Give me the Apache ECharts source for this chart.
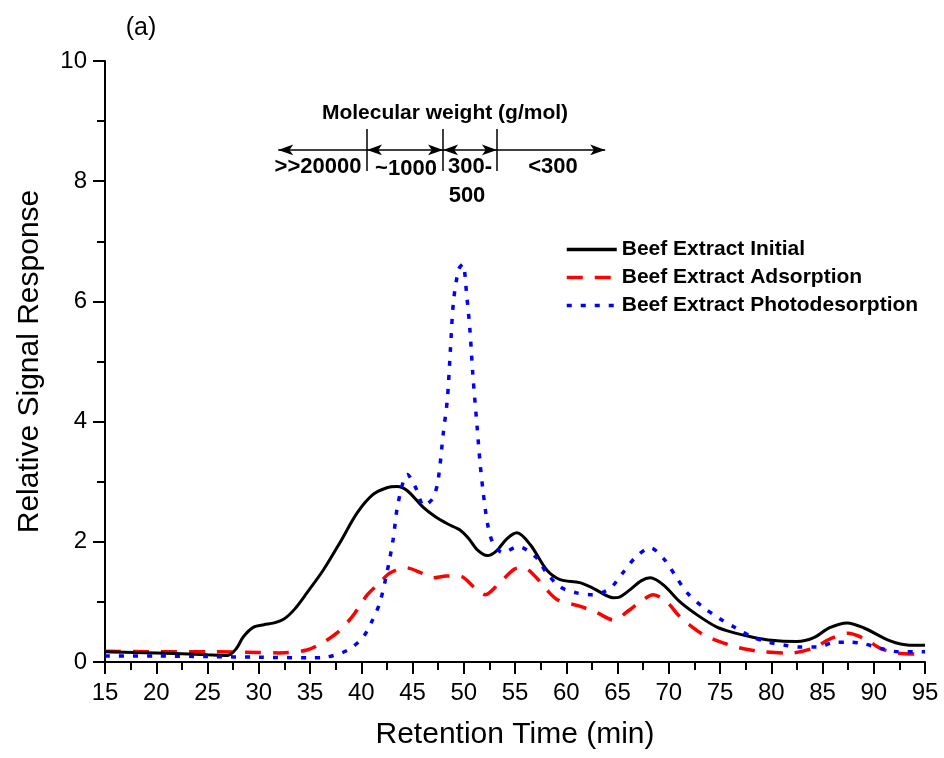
<!DOCTYPE html>
<html>
<head>
<meta charset="utf-8">
<script src="https://cdn.jsdelivr.net/npm/echarts@6/dist/echarts.min.js"></script>
<style>
    html, body { margin: 0; padding: 0; background: #fff; }
    #chart { width: 944px; height: 758px; }
</style>
</head>
<body>
<div id="chart"></div>
<script>
// Retention time (min) / relative signal
const initialTime = [15, 20, 25, 27, 27.8, 28.5, 29.5, 30.5, 31.5, 32.5, 33.5, 34.7, 36.3, 37.9, 39.6, 41.1, 42.5, 43.5, 44.5, 46, 47.2, 48.4, 49.6, 50.5, 51.3, 52.3, 53.2, 54.2, 55.2, 56.5, 58.1, 59.4, 61.3, 62.6, 64.6, 65.2, 66.2, 67.3, 68.2, 69.5, 71.1, 72.8, 74.7, 76.5, 78, 80, 82.5, 84.1, 85.7, 87.4, 89, 91.6, 93.5, 95]
const initialSignal = [0.17, 0.15, 0.12, 0.11, 0.22, 0.42, 0.58, 0.62, 0.65, 0.72, 0.88, 1.15, 1.53, 1.98, 2.48, 2.78, 2.9, 2.92, 2.85, 2.58, 2.42, 2.3, 2.2, 2.05, 1.87, 1.77, 1.85, 2.05, 2.15, 1.95, 1.53, 1.37, 1.32, 1.23, 1.07, 1.08, 1.2, 1.35, 1.4, 1.28, 1.0, 0.78, 0.58, 0.48, 0.42, 0.36, 0.34, 0.4, 0.57, 0.65, 0.57, 0.35, 0.28, 0.28]

const adsorptionTime = [15, 20, 25, 30, 32, 34.7, 36.3, 37.6, 39.1, 40.6, 41.8, 42.8, 44.3, 45.9, 47, 48.3, 49.6, 51.1, 52.1, 53.5, 55, 55.8, 57, 58.1, 59.2, 61.3, 63, 64.6, 66.2, 67.2, 68.5, 69.8, 71.1, 72.3, 73.4, 74.5, 76, 77.3, 79.2, 81.8, 84.1, 85.7, 87.5, 89.3, 90.6, 92.2, 95]
const adsorptionSignal = [0.18, 0.17, 0.17, 0.16, 0.15, 0.2, 0.33, 0.48, 0.75, 1.12, 1.32, 1.48, 1.57, 1.48, 1.4, 1.43, 1.43, 1.23, 1.12, 1.32, 1.55, 1.57, 1.42, 1.2, 1.03, 0.93, 0.82, 0.7, 0.87, 1.0, 1.12, 1.0, 0.75, 0.58, 0.45, 0.37, 0.28, 0.22, 0.17, 0.15, 0.23, 0.38, 0.48, 0.37, 0.23, 0.15, 0.13]

const photoTime = [15, 20, 25, 30, 35, 36.5, 38.7, 40.2, 41.1, 41.8, 42.5, 43.1, 43.6, 44.5, 45.4, 46.1, 47, 47.5, 48, 48.4, 48.7, 49, 49.5, 49.9, 50.3, 50.6, 50.9, 51.3, 51.6, 51.9, 52.3, 52.8, 53.8, 55.3, 57, 58.1, 59.4, 61, 62.6, 64.3, 65.5, 66.7, 68.2, 69.6, 70.7, 71.8, 73.3, 74.9, 76.5, 78.1, 79.7, 81.3, 82.8, 84.5, 86, 87.6, 89.1, 90.8, 92.4, 95]
const photoSignal = [0.1, 0.1, 0.09, 0.08, 0.07, 0.08, 0.2, 0.42, 0.7, 0.98, 1.48, 2.03, 2.65, 3.12, 2.87, 2.6, 2.73, 3.03, 3.8, 4.37, 5.2, 6.0, 6.53, 6.62, 6.08, 5.53, 4.75, 3.92, 3.3, 2.82, 2.32, 2.0, 1.82, 1.92, 1.75, 1.48, 1.25, 1.15, 1.12, 1.23, 1.48, 1.73, 1.9, 1.7, 1.42, 1.15, 0.92, 0.73, 0.57, 0.42, 0.33, 0.28, 0.25, 0.25, 0.32, 0.33, 0.3, 0.22, 0.17, 0.17]

const seriesNames = ['Beef Extract Initial', 'Beef Extract Adsorption', 'Beef Extract Photodesorption']

// molecular weight bracket (retention time of the dividers)
const mwDividers = [40.56, 47.98, 53.24]
const mwArrowEnds = [31.9, 63.8]

const FONT = '"Liberation Sans", Arial, sans-serif'

const pairs = (xs, ys) => xs.map((x, i) => [x, ys[i]])

const arrowY = 8.52
const tickTop = 8.87
const tickBottom = 8.17
const head = { symbol: 'arrow', symbolSize: [8, 15] }
const noHead = { symbol: 'none' }

const bracketLines = [
    [{ coord: [mwDividers[0], arrowY], ...noHead }, { coord: [mwArrowEnds[0], arrowY], ...head }],
    [{ coord: [mwDividers[0], arrowY], ...head }, { coord: [mwDividers[1], arrowY], ...head }],
    [{ coord: [mwDividers[1], arrowY], ...head }, { coord: [mwDividers[2], arrowY], ...head }],
    [{ coord: [mwDividers[2], arrowY], ...noHead }, { coord: [mwArrowEnds[1], arrowY], ...head }],
    ...mwDividers.map(x => [{ coord: [x, tickTop], ...noHead }, { coord: [x, tickBottom], ...noHead }])
]

const chart = echarts.init(document.getElementById('chart'))

const textEl = (text, x, y, size, weight) => ({
    type: 'text',
    x, y,
    style: {
        text,
        font: `${weight} ${size}px ${FONT}`,
        fill: '#000',
        align: 'center',
        verticalAlign: 'middle'
    }
})

chart.setOption({
    animation: false,
    backgroundColor: '#fff',
    grid: { left: 105, right: 19, top: 61, bottom: 96, outerBoundsMode: 'none' },
    legend: {
        orient: 'vertical',
        left: 560,
        top: 234,
        itemWidth: 50,
        itemHeight: 14,
        itemGap: 7,
        data: seriesNames,
        // hide the marker dot, keep the line sample only
        itemStyle: { color: 'rgba(0,0,0,0)', borderWidth: 0, opacity: 0 },
        lineStyle: { width: 3.5 },
        textStyle: { fontFamily: FONT, fontSize: 21, fontWeight: 'bold', color: '#000' }
    },
    xAxis: {
        type: 'value',
        min: 15,
        max: 95,
        interval: 5,
        name: 'Retention Time (min)',
        nameLocation: 'middle',
        nameGap: 58,
        nameTextStyle: { fontFamily: FONT, fontSize: 30, color: '#000' },
        axisLine: { lineStyle: { color: '#000', width: 2 } },
        axisTick: { length: 12, lineStyle: { color: '#000', width: 2 } },
        minorTick: { show: true, splitNumber: 2, length: 8, lineStyle: { color: '#000', width: 2 } },
        axisLabel: { fontFamily: FONT, fontSize: 24, color: '#000', margin: 19 },
        splitLine: { show: false }
    },
    yAxis: {
        type: 'value',
        min: 0,
        max: 10,
        interval: 2,
        name: 'Relative Signal Response',
        nameLocation: 'middle',
        nameGap: 60,
        nameTextStyle: { fontFamily: FONT, fontSize: 30, color: '#000' },
        axisLine: { show: true, lineStyle: { color: '#000', width: 2 } },
        axisTick: { show: true, length: 12, lineStyle: { color: '#000', width: 2 } },
        minorTick: { show: true, splitNumber: 2, length: 8, lineStyle: { color: '#000', width: 2 } },
        axisLabel: { fontFamily: FONT, fontSize: 24, color: '#000', margin: 18 },
        splitLine: { show: false }
    },
    series: [
        {
            name: seriesNames[0],
            type: 'line',
            data: pairs(initialTime, initialSignal),
            smooth: 0.3,
            symbol: 'none',
            itemStyle: { color: '#000' },
            lineStyle: { color: '#000', width: 3 },
            z: 3
        },
        {
            name: seriesNames[1],
            type: 'line',
            data: pairs(adsorptionTime, adsorptionSignal),
            smooth: 0.3,
            symbol: 'none',
            itemStyle: { color: '#ff0000' },
            lineStyle: { color: '#ff0000', width: 3.5, type: [16, 12] },
            z: 2
        },
        {
            name: seriesNames[2],
            type: 'line',
            data: pairs(photoTime, photoSignal),
            smooth: 0.3,
            symbol: 'none',
            itemStyle: { color: '#0000ff' },
            lineStyle: { color: '#0000ff', width: 3.5, type: [5, 9] },
            z: 4
        },
        {
            name: 'mw-bracket',
            type: 'line',
            data: [],
            silent: true,
            markLine: {
                silent: true,
                animation: false,
                label: { show: false },
                lineStyle: { color: '#000', width: 1.5, type: 'solid' },
                itemStyle: { color: '#000' },
                emphasis: { disabled: true },
                data: bracketLines
            }
        }
    ],
    graphic: [
        textEl('(a)', 141, 28, 25, 'normal'),
        textEl('Molecular weight (g/mol)', 445, 113, 21, 'bold'),
        textEl('>>20000', 318, 167, 22, 'bold'),
        textEl('~1000', 406, 169, 22, 'bold'),
        textEl('300-', 470, 167, 22, 'bold'),
        textEl('500', 467, 196, 22, 'bold'),
        textEl('<300', 553, 167, 22, 'bold')
    ]
})
</script>
</body>
</html>
